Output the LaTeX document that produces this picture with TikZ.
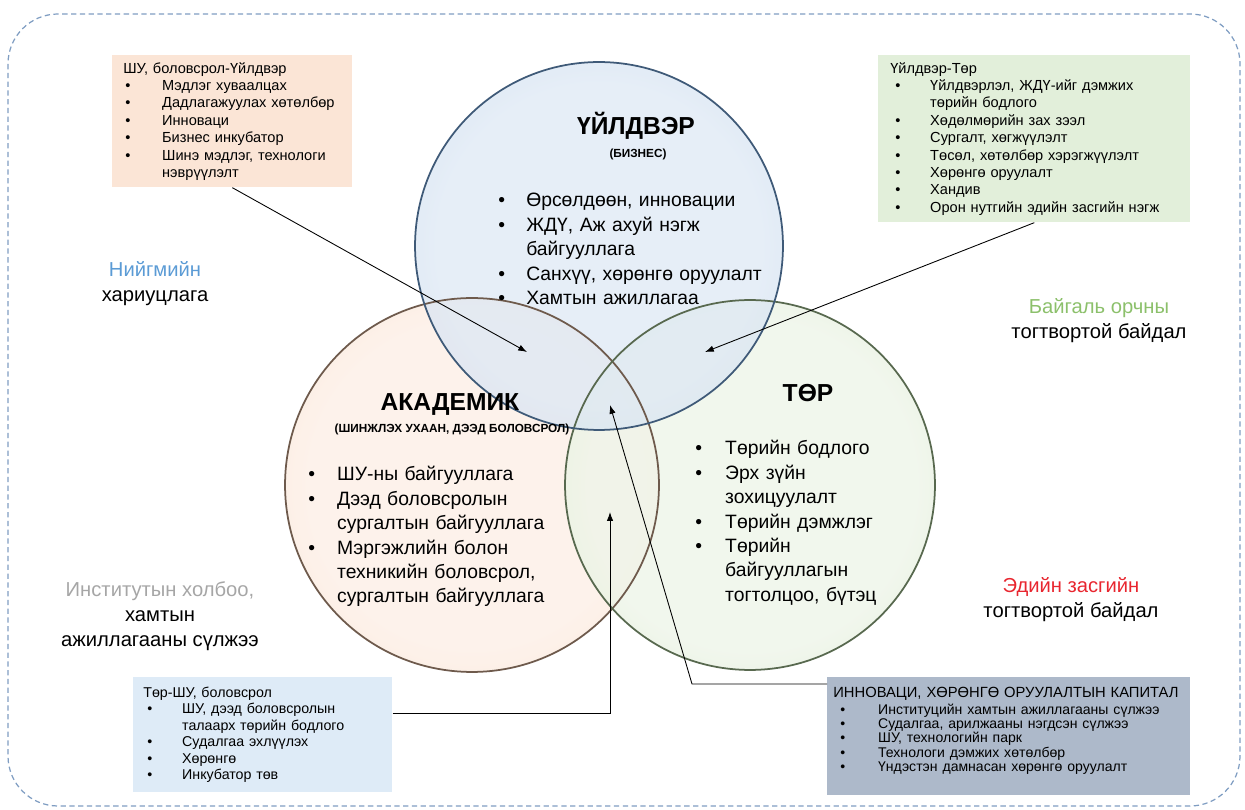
\documentclass[tikz,border=0pt]{standalone}
\usepackage{fontspec}
\setmainfont{Liberation Sans}
\usepackage{tikz}
\usetikzlibrary{arrows.meta, calc}

\definecolor{peach}{HTML}{FBE5D6}
\definecolor{mint}{HTML}{E2EFDA}
\definecolor{skyb}{HTML}{DEEBF7}
\definecolor{slate}{HTML}{ADB9CA}
\definecolor{framec}{HTML}{7F9DC2}
\definecolor{socblue}{HTML}{5B9BD5}
\definecolor{natgreen}{HTML}{8CC06B}
\definecolor{econred}{HTML}{E8262F}
\definecolor{instgray}{HTML}{A6A6A6}
% bubble colours
\definecolor{bizA}{HTML}{DDE8F4}
\definecolor{bizB}{HTML}{C3D6EC}
\definecolor{bizC}{HTML}{8CABD4}
\definecolor{bizrim}{HTML}{3F5A78}
\definecolor{acaA}{HTML}{FCEFE6}
\definecolor{acaB}{HTML}{F8D8C2}
\definecolor{acaC}{HTML}{E8A67B}
\definecolor{acarim}{HTML}{6E5A4C}
\definecolor{govA}{HTML}{EEF5E9}
\definecolor{govB}{HTML}{D6E8C9}
\definecolor{govC}{HTML}{A8CB90}
\definecolor{govrim}{HTML}{58694F}

\pgfdeclareradialshading{bizglow}{\pgfpoint{0bp}{0bp}}{color(0bp)=(bizA); color(22bp)=(bizA); color(42bp)=(bizB); color(50bp)=(bizC)}
\pgfdeclareradialshading{acaglow}{\pgfpoint{0bp}{0bp}}{color(0bp)=(acaA); color(22bp)=(acaA); color(42bp)=(acaB); color(50bp)=(acaC)}
\pgfdeclareradialshading{govglow}{\pgfpoint{0bp}{0bp}}{color(0bp)=(govA); color(22bp)=(govA); color(42bp)=(govB); color(50bp)=(govC)}

% bullet list: #1 text indent, #2 bullet indent
\newenvironment{blist}[2]{\begin{list}{\textbullet}{\setlength{\leftmargin}{#1}%
  \setlength{\labelwidth}{0pt}\setlength{\labelsep}{\dimexpr#1-#2\relax}%
  \setlength{\itemsep}{0pt}\setlength{\parsep}{0pt}\setlength{\topsep}{0pt}%
  \setlength{\partopsep}{0pt}\setlength{\itemindent}{0pt}%
  \renewcommand{\makelabel}[1]{\rlap{##1}}}\raggedright}{\end{list}}

\begin{document}
\begin{tikzpicture}[
            x=0.02cm, y=-0.02cm,
            infobox/.style  ={rectangle, anchor=north west, inner ysep=0pt, align=left,
                              font=\fontsize{8.3}{9.9}\selectfont},
            bubbletext/.style={anchor=north west, inner sep=0pt, text width=6cm, align=left,
                              font=\fontsize{11}{13.9}\selectfont},
            bubbletitle/.style={inner sep=0pt, font=\fontsize{14}{16}\selectfont\bfseries},
            bubblesub/.style={inner sep=0pt, font=\fontsize{6.7}{8}\selectfont\bfseries},
            sidelabel/.style={align=center, inner sep=0pt, font=\fontsize{11.5}{14.2}\selectfont},
            arrow/.style    ={-{Latex[length=5pt,width=3.6pt]}, line width=0.5pt}
        ]
        \useasboundingbox (0,0) rectangle (1245,810);
        \draw[framec, line width=0.7pt, dash pattern=on 3pt off 2pt, rounded corners=1cm]
            (8,14) rectangle (1240,806);

        % the three bubbles
        \shade[shading=acaglow, fill opacity=0.8] (472,485) circle (3.74cm);
        \shade[shading=govglow, fill opacity=0.8] (750,485) circle (3.7cm);
        \shade[shading=bizglow, fill opacity=0.75] (599,246) circle (3.68cm);
        \draw[acarim, line width=1pt] (472,485) circle (3.74cm);
        \draw[govrim, line width=1pt] (750,485) circle (3.7cm);
        \draw[bizrim, line width=1pt] (599,246) circle (3.68cm);

        \node[bubbletitle] (biztitle) at (636,126) {ҮЙЛДВЭР};
        \node[bubblesub]   (bizsub)   at (638,154) {(БИЗНЕС)};
        \node[bubbletext]  (bizlist)  at (498,182) {\begin{blist}{15.9pt}{0pt}
            \item Өрсөлдөөн, инновации
            \item ЖДҮ, Аж ахуй нэгж\newline байгууллага
            \item Санхүү, хөрөнгө оруулалт
            \item Хамтын ажиллагаа
            \end{blist}};

        \node[bubbletitle] (acatitle) at (450,404) {АКАДЕМИК};
        \node[bubblesub]   (acasub)   at (452,429) {(ШИНЖЛЭХ УХААН, ДЭЭД БОЛОВСРОЛ)};
        \node[bubbletext]  (acalist)  at (308,456) {\begin{blist}{16.4pt}{0pt}
            \item ШУ-ны байгууллага
            \item Дээд боловсролын\newline сургалтын байгууллага
            \item Мэргэжлийн болон\newline техникийн боловсрол,\newline сургалтын байгууллага
            \end{blist}};

        \node[bubbletitle] (govtitle) at (808,393) {ТӨР};
        \node[bubbletext]  (govlist)  at (695,430) {\begin{blist}{17pt}{0pt}
            \item Төрийн бодлого
            \item Эрх зүйн\newline зохицуулалт
            \item Төрийн дэмжлэг
            \item Төрийн\newline байгууллагын\newline тогтолцоо, бүтэц
            \end{blist}};

        % side labels
        \node[sidelabel] (social) at (155,284) {{\color{socblue}Нийгмийн}\\хариуцлага};
        \node[sidelabel] (nature) at (1099,321) {{\color{natgreen}Байгаль орчны}\\тогтвортой байдал};
        \node[sidelabel] (inst)   at (160,616) {{\color{instgray}Институтын холбоо,}\\хамтын\\ажиллагааны сүлжээ};
        \node[sidelabel] (econ)   at (1071,600) {{\color{econred}Эдийн засгийн}\\тогтвортой байдал};

        % corner boxes
        \node[infobox, fill=peach, inner xsep=0.22cm, text width=4.36cm, minimum height=2.64cm]
            (obox) at (112,55) {ШУ, боловсрол-Үйлдвэр\par
            \begin{blist}{22.1pt}{1.1pt}
            \item Мэдлэг хуваалцах
            \item Дадлагажуулах хөтөлбөр
            \item Инноваци
            \item Бизнес инкубатор
            \item Шинэ мэдлэг, технологи\newline нэврүүлэлт
            \end{blist}};
        \node[infobox, fill=mint, inner xsep=0.24cm, text width=5.76cm, minimum height=3.34cm]
            (gbox) at (878,55) {Үйлдвэр-Төр\par
            \begin{blist}{22.7pt}{2.8pt}
            \item Үйлдвэрлэл, ЖДҮ-ийг дэмжих\newline төрийн бодлого
            \item Хөдөлмөрийн зах зээл
            \item Сургалт, хөгжүүлэлт
            \item Төсөл, хөтөлбөр хэрэгжүүлэлт
            \item Хөрөнгө оруулалт
            \item Хандив
            \item Орон нутгийн эдийн засгийн нэгж
            \end{blist}};
        \node[infobox, fill=skyb, inner xsep=0.2cm, text width=4.78cm, minimum height=2.3cm,
              font=\fontsize{8.1}{9.4}\selectfont]
            (bbox) at (133,677) {Төр-ШУ, боловсрол\par
            \begin{blist}{22.1pt}{2.3pt}
            \item ШУ, дээд боловсролын\newline талаарх төрийн бодлого
            \item Судалгаа эхлүүлэх
            \item Хөрөнгө
            \item Инкубатор төв
            \end{blist}};
        \node[infobox, fill=slate, inner xsep=0.12cm, text width=7.02cm, minimum height=2.36cm,
              font=\fontsize{8.4}{10}\selectfont]
            (kbox) at (827,677) {ИННОВАЦИ, ХӨРӨНГӨ ОРУУЛАЛТЫН КАПИТАЛ\par
            \vspace{1.5pt}\fontsize{8}{8.1}\selectfont\lineskiplimit=-10pt
            \begin{blist}{25.5pt}{4pt}
            \item Институцийн хамтын ажиллагааны сүлжээ
            \item Судалгаа, арилжааны нэгдсэн сүлжээ
            \item ШУ, технологийн парк
            \item Технологи дэмжих хөтөлбөр
            \item Үндэстэн дамнасан хөрөнгө оруулалт
            \end{blist}\par\vbox to 1.5pt{}};

        % arrow tips
        \coordinate (t1) at (527,352);
        \coordinate (t2) at (705,352);
        \coordinate (t3) at (610,512);
        \coordinate (t4) at (610,405);
        \coordinate (k4) at (692,684);

        \draw[arrow] (obox.south) -- (t1);
        \draw[arrow] (gbox.south) -- (t2);
        \draw[arrow] ($(bbox.north east)+(0,36)$) -| (t3);
        \draw[arrow] ($(kbox.north west)+(0,7)$) -- (k4) -- (t4);
\end{tikzpicture}
\end{document}
